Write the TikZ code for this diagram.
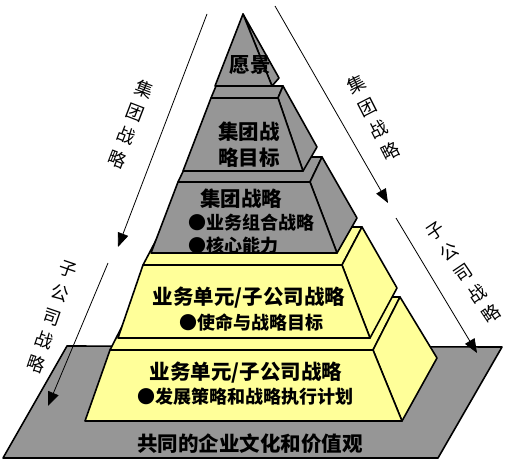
\documentclass[tikz,border=0pt]{standalone}
\usepackage{fontspec}
\newfontfamily\cjk{Noto Sans CJK SC}
\usetikzlibrary{arrows.meta}
\definecolor{pgray}{HTML}{969696}
\definecolor{pyel}{HTML}{FFFF99}
\begin{document}
\begin{tikzpicture}[x=1pt,y=-1pt,
  face/.style={draw=black,line width=1.6pt,line join=round},
  gr/.style={face,fill=pgray},
  yl/.style={face,fill=pyel},
  lbl/.style={font=\cjk\bfseries\fontsize{20.5}{24}\selectfont,inner sep=0pt},
  sml/.style={font=\cjk\bfseries\fontsize{18}{22}\selectfont,inner sep=0pt},
  side/.style={font=\cjk\fontsize{18}{25}\selectfont,align=center,inner sep=0pt},
  arr/.style={line width=0.8pt,-{Triangle[length=14pt,width=11pt]}}]
\useasboundingbox (0,0) rectangle (505,460);

% base
\draw[gr] (67,346) -- (502,347) -- (438,458) -- (3,458) -- cycle;
\node[lbl] (base) at (250,444) {共同的企业文化和价值观};

% arrows
\coordinate (lu1) at (207,14);  \coordinate (lu2) at (118,247);
\coordinate (ru1) at (275,6);   \coordinate (ru2) at (388,203);
\coordinate (ll1) at (108,263); \coordinate (ll2) at (48,406);
\coordinate (rl1) at (396,218); \coordinate (rl2) at (477,353);
\draw[arr] (lu1) -- (lu2);
\draw[arr] (ru1) -- (ru2);
\draw[arr] (ll1) -- (ll2);
\draw[arr] (rl1) -- (rl2);

\node[side,rotate=-21] (sl1) at (131,124) {集\\团\\战\\略};
\node[side,rotate=-19] (sl2) at (52,317) {子\\公\\司\\战\\略};
\node[side,rotate=27] (sr1) at (373,118) {集\\团\\战\\略};
\node[side,rotate=34] (sr2) at (463,273) {子\\公\\司\\战\\略};

% layer 5
\draw[yl] (110,350) -- (373,350) -- (400,297) -- (137,297) -- cycle;
\draw[yl] (373,350) -- (400,297) -- (437,358) -- (402,421) -- cycle;
\draw[yl] (110,350) -- (373,350) -- (402,421) -- (85,421) -- cycle;
\node[lbl] (t5a) at (246,373) {业务单元/子公司战略};
\node[sml] (t5b) at (245,397) {●发展策略和战略执行计划};

% layer 4
\draw[yl] (143,265) -- (342,265) -- (362,227) -- (163,227) -- cycle;
\draw[yl] (342,265) -- (362,227) -- (397,288) -- (370,338) -- cycle;
\draw[yl] (143,265) -- (342,265) -- (370,338) -- (118,338) -- cycle;
\node[lbl] (t4a) at (249,298) {业务单元/子公司战略};
\node[sml] (t4b) at (251,323) {●使命与战略目标};

% layer 3
\draw[gr] (178,182) -- (310,182) -- (322,157) -- (190,157) -- cycle;
\draw[gr] (310,182) -- (322,157) -- (357,218) -- (337,253) -- cycle;
\draw[gr] (178,182) -- (310,182) -- (337,253) -- (151,253) -- cycle;
\node[lbl] (t3a) at (241,199) {集团战略};
\node[sml,anchor=west] (t3b) at (188,223) {●业务组合战略};
\node[sml,anchor=west] (t3c) at (188,246) {●核心能力};

% layer 2
\draw[gr] (211,98) -- (278,98) -- (283,86) -- (216,86) -- cycle;
\draw[gr] (278,98) -- (283,86) -- (317,147) -- (303,171) -- cycle;
\draw[gr] (211,98) -- (278,98) -- (303,171) -- (183,171) -- cycle;
\node[lbl] (t2a) at (249,132) {集团战};
\node[lbl] (t2b) at (249,158) {略目标};

% layer 1
\draw[gr] (243,14) -- (279,78) -- (272,86) -- cycle;
\draw[gr] (243,14) -- (272,86) -- (215,86) -- cycle;
\node[lbl] (t1) at (250,65) {愿景};
\end{tikzpicture}
\end{document}
